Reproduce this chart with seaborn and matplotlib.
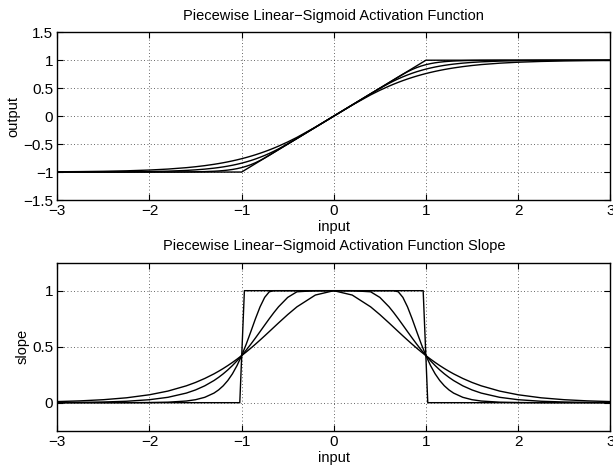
import matplotlib
matplotlib.use("Agg")
import matplotlib.pyplot as plt
import seaborn as sns

# ---- data ----
x = [-3.0, -2.75, -2.5, -2.25, -2.0, -1.8, -1.6, -1.5, -1.4, -1.3, -1.25, -1.2, -1.15, -1.1, -1.05,
     -1.0, -0.95, -0.9, -0.85, -0.8, -0.75, -0.7, -0.65, -0.6, -0.5, -0.4, -0.2,
     0.0,
     0.2, 0.4, 0.5, 0.6, 0.65, 0.7, 0.75, 0.8, 0.85, 0.9, 0.95, 1.0,
     1.05, 1.1, 1.15, 1.2, 1.25, 1.3, 1.4, 1.5, 1.6, 1.8, 2.0, 2.25, 2.5, 2.75, 3.0]

# output curves (smooth, soft -> harder)
out_a = [-0.9951, -0.9919, -0.9866, -0.9780, -0.9640, -0.9468, -0.9217, -0.9051, -0.8854, -0.8617, -0.8483, -0.8337, -0.8178, -0.8005, -0.7818,
         -0.7616, -0.7398, -0.7163, -0.6911, -0.6640, -0.6351, -0.6044, -0.5717, -0.5370, -0.4621, -0.3799, -0.1974,
         0.0,
         0.1974, 0.3799, 0.4621, 0.5370, 0.5717, 0.6044, 0.6351, 0.6640, 0.6911, 0.7163, 0.7398, 0.7616,
         0.7818, 0.8005, 0.8178, 0.8337, 0.8483, 0.8617, 0.8854, 0.9051, 0.9217, 0.9468, 0.9640, 0.9780, 0.9866, 0.9919, 0.9951]
out_b = [-0.9996, -0.9990, -0.9980, -0.9958, -0.9911, -0.9838, -0.9708, -0.9609, -0.9478, -0.9305, -0.9199, -0.9078, -0.8941, -0.8785, -0.8609,
         -0.8411, -0.8188, -0.7940, -0.7666, -0.7362, -0.7031, -0.6670, -0.6282, -0.5866, -0.4966, -0.3998, -0.2,
         0.0,
         0.2, 0.3998, 0.4966, 0.5866, 0.6282, 0.6670, 0.7031, 0.7362, 0.7666, 0.7940, 0.8188, 0.8411,
         0.8609, 0.8785, 0.8941, 0.9078, 0.9199, 0.9305, 0.9478, 0.9609, 0.9708, 0.9838, 0.9911, 0.9958, 0.9980, 0.9990, 0.9996]
out_c = [-1.0, -1.0, -1.0, -1.0, -0.9998, -0.9993, -0.9975, -0.9955, -0.9919, -0.9854, -0.9805, -0.9739, -0.9652, -0.9539, -0.9392,
         -0.9205, -0.8970, -0.8681, -0.8335, -0.7933, -0.7483, -0.6999, -0.65, -0.6, -0.5, -0.4, -0.2,
         0.0,
         0.2, 0.4, 0.5, 0.6, 0.65, 0.6999, 0.7483, 0.7933, 0.8335, 0.8681, 0.8970, 0.9205,
         0.9392, 0.9539, 0.9652, 0.9739, 0.9805, 0.9854, 0.9919, 0.9955, 0.9975, 0.9993, 0.9998, 1.0, 1.0, 1.0, 1.0]

# slope curves
slope_a = [0.0099, 0.0162, 0.0266, 0.0435, 0.0707, 0.1035, 0.1505, 0.1807, 0.2162, 0.2574, 0.2804, 0.3050, 0.3313, 0.3592, 0.3888,
           0.4200, 0.4527, 0.4869, 0.5224, 0.5591, 0.5966, 0.6347, 0.6732, 0.7116, 0.7864, 0.8556, 0.9610,
           1.0,
           0.9610, 0.8556, 0.7864, 0.7116, 0.6732, 0.6347, 0.5966, 0.5591, 0.5224, 0.4869, 0.4527, 0.4200,
           0.3888, 0.3592, 0.3313, 0.3050, 0.2804, 0.2574, 0.2162, 0.1807, 0.1505, 0.1035, 0.0707, 0.0435, 0.0266, 0.0162, 0.0099]
slope_b = [0.0013, 0.0028, 0.0060, 0.0127, 0.0266, 0.0479, 0.0856, 0.1138, 0.1505, 0.1977, 0.2259, 0.2574, 0.2925, 0.3313, 0.3738,
           0.4200, 0.4696, 0.5224, 0.5777, 0.6347, 0.6924, 0.7495, 0.8044, 0.8556, 0.9400, 0.9901, 1.0,
           1.0,
           1.0, 0.9901, 0.9400, 0.8556, 0.8044, 0.7495, 0.6924, 0.6347, 0.5777, 0.5224, 0.4696, 0.4200,
           0.3738, 0.3313, 0.2925, 0.2574, 0.2259, 0.1977, 0.1505, 0.1138, 0.0856, 0.0479, 0.0266, 0.0127, 0.0060, 0.0028, 0.0013]
slope_c = [0.0, 0.0, 0.0001, 0.0003, 0.0013, 0.0045, 0.0147, 0.0266, 0.0479, 0.0856, 0.1138, 0.1505, 0.1977, 0.2574, 0.3313,
           0.4200, 0.5224, 0.6347, 0.7495, 0.8556, 0.9400, 0.9901, 1.0, 1.0, 1.0, 1.0, 1.0,
           1.0,
           1.0, 1.0, 1.0, 1.0, 1.0, 0.9901, 0.9400, 0.8556, 0.7495, 0.6347, 0.5224, 0.4200,
           0.3313, 0.2574, 0.1977, 0.1505, 0.1138, 0.0856, 0.0479, 0.0266, 0.0147, 0.0045, 0.0013, 0.0003, 0.0001, 0.0, 0.0]

# hard (piecewise linear) curve
x_hard_out = [-3.0, -1.0, 1.0, 3.0]
out_hard = [-1.0, -1.0, 1.0, 1.0]
x_hard_slope = [-3.0, -1.02, -0.97, 0.97, 1.02, 3.0]
slope_hard = [0.0, 0.0, 1.0, 1.0, 0.0, 0.0]

titles = ["Piecewise Linear\u2212Sigmoid Activation Function",
          "Piecewise Linear\u2212Sigmoid Activation Function Slope"]
xticks = [-3, -2, -1, 0, 1, 2, 3]
yticks_top = [-1.5, -1, -0.5, 0, 0.5, 1, 1.5]
yticks_bot = [0, 0.5, 1]

# ---- plotting ----
sns.set_style("ticks")
plt.rcParams["font.family"] = ["Liberation Sans", "DejaVu Sans"]
plt.rcParams["text.color"] = "black"
plt.rcParams["axes.labelcolor"] = "black"
plt.rcParams["xtick.color"] = "black"
plt.rcParams["ytick.color"] = "black"

fig = plt.figure(figsize=(6.13, 4.66), dpi=100)
ax1 = fig.add_axes([0.0935, 0.5708, 0.9020, 0.3600])
ax2 = fig.add_axes([0.0935, 0.0758, 0.9020, 0.3605])

lw = 1.0
for yy in (out_a, out_b, out_c):
    sns.lineplot(x=x, y=yy, ax=ax1, color="black", linewidth=lw, sort=False, estimator=None)
sns.lineplot(x=x_hard_out, y=out_hard, ax=ax1, color="black", linewidth=lw, sort=False, estimator=None)

for yy in (slope_a, slope_b, slope_c):
    sns.lineplot(x=x, y=yy, ax=ax2, color="black", linewidth=lw, sort=False, estimator=None)
sns.lineplot(x=x_hard_slope, y=slope_hard, ax=ax2, color="black", linewidth=lw, sort=False, estimator=None)

def style(ax, yticks, ylim, ylabel, title):
    ax.set_xlim(-3, 3)
    ax.set_ylim(*ylim)
    ax.set_xticks(xticks)
    ax.set_xticklabels([f"{t:g}".replace("-", "\u2212") for t in xticks])
    ax.set_yticks(yticks)
    ax.set_yticklabels([f"{t:g}".replace("-", "\u2212") for t in yticks])
    ax.grid(True, linestyle=(0, (1, 3)), color="black", linewidth=0.6, alpha=0.8)
    ax.tick_params(direction="in", top=True, right=True, length=4, width=0.8,
                   labelsize=11, pad=3, colors="black")
    for s in ax.spines.values():
        s.set_visible(True)
        s.set_linewidth(1.0)
        s.set_color("black")
    ax.set_xlabel("input", fontsize=10.5, labelpad=1.5, color="black")
    ax.set_ylabel(ylabel, fontsize=10.5, labelpad=2, color="black")
    ax.set_title(title, fontsize=10.5, pad=9, color="black")

style(ax1, yticks_top, (-1.5, 1.5), "output", titles[0])
style(ax2, yticks_bot, (-0.25, 1.25), "slope", titles[1])

fig.savefig("out.png", dpi=100, facecolor="white")
